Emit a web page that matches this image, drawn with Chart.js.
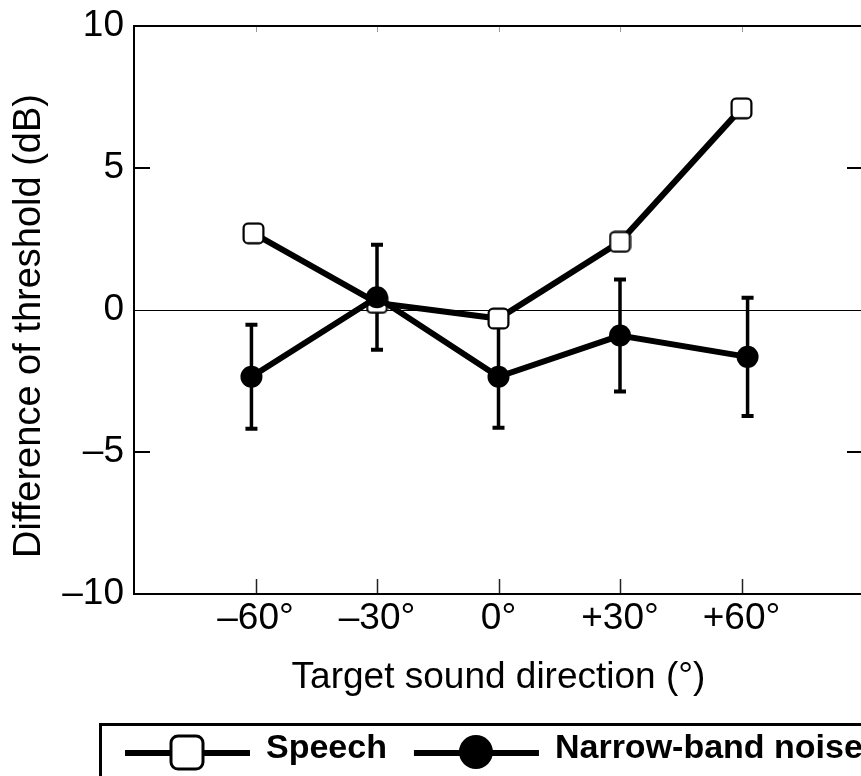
<!DOCTYPE html>
<html>
<head>
<meta charset="utf-8">
<title>Difference of threshold</title>
<script src="https://cdn.jsdelivr.net/npm/chart.js@4.4.0/dist/chart.umd.min.js"></script>
<style>
  html, body { margin: 0; padding: 0; background: #fff; overflow: hidden; }
  #wrap { width: 861px; height: 776px; overflow: hidden; }
</style>
</head>
<body>
<div id="wrap"><canvas id="thresholdChart" width="880" height="776"></canvas></div>
<script>
// direction ticks and labels
var directions = [-60, -30, 0, 30, 60];
var dirLabels = ['\u201360\u00b0', '\u201330\u00b0', '0\u00b0', '+30\u00b0', '+60\u00b0'];
var yTicks = [-10, -5, 0, 5, 10];
var yTickLabels = ['\u201310', '\u20135', '0', '5', '10'];

// speech: threshold difference (dB)
var speechX = [-60.5, -30, 0, 30, 60];
var speechDiff = [2.7, 0.25, -0.3, 2.4, 7.1];

// narrow-band noise: mean and SD (dB)
var noiseX = [-61, -30, 0, 30, 61.5];
var noiseDiff = [-2.35, 0.45, -2.35, -0.9, -1.65];
var noiseSd = [1.83, 1.85, 1.8, 1.97, 2.08];

var yTitle = 'Difference of threshold (dB)';
var FONT = '"Liberation Sans", Arial, Helvetica, sans-serif';

function roundRectPath(g, x, y, w, h, r) {
  g.beginPath();
  g.moveTo(x + r, y);
  g.lineTo(x + w - r, y);
  g.arcTo(x + w, y, x + w, y + r, r);
  g.lineTo(x + w, y + h - r);
  g.arcTo(x + w, y + h, x + w - r, y + h, r);
  g.lineTo(x + r, y + h);
  g.arcTo(x, y + h, x, y + h - r, r);
  g.lineTo(x, y + r);
  g.arcTo(x, y, x + r, y, r);
  g.closePath();
}

// open rounded square used as the speech marker
function squareMarker(size, r, lw) {
  var c = document.createElement('canvas');
  c.width = size; c.height = size;
  var g = c.getContext('2d');
  var o = lw / 2 + 0.5;
  roundRectPath(g, o, o, size - 2 * o, size - 2 * o, r);
  g.fillStyle = '#fff'; g.fill();
  g.lineWidth = lw; g.strokeStyle = '#000'; g.stroke();
  return c;
}

function toPoints(xs, ys) {
  return xs.map(function (x, i) { return { x: x, y: ys[i] }; });
}

// zero line, frame and inward ticks
var frame = {
  id: 'frame',
  beforeDatasetsDraw: function (chart) {
    var a = chart.chartArea, ctx = chart.ctx;
    var xs = chart.scales.x, ys = chart.scales.y;
    ctx.save();
    var y0 = Math.round(ys.getPixelForValue(0)) + 0.5;
    ctx.strokeStyle = '#000'; ctx.lineWidth = 1;
    ctx.beginPath(); ctx.moveTo(a.left, y0); ctx.lineTo(a.right, y0); ctx.stroke();

    ctx.lineWidth = 1.5; ctx.strokeStyle = '#222';
    directions.forEach(function (d) {
      var px = Math.round(xs.getPixelForValue(d)) + 0.5;
      ctx.beginPath(); ctx.moveTo(px, a.bottom); ctx.lineTo(px, a.bottom - 15); ctx.stroke();
    });
    ctx.strokeStyle = '#999'; ctx.lineWidth = 1;
    directions.forEach(function (d) {
      var px = Math.round(xs.getPixelForValue(d)) + 0.5;
      ctx.beginPath(); ctx.moveTo(px, a.top); ctx.lineTo(px, a.top + 6); ctx.stroke();
    });
    ctx.strokeStyle = '#000'; ctx.lineWidth = 2;
    [-5, 5].forEach(function (v) {
      var py = ys.getPixelForValue(v);
      ctx.beginPath();
      ctx.moveTo(a.left, py); ctx.lineTo(a.left + 16, py);
      ctx.moveTo(a.right, py); ctx.lineTo(a.right - 16, py);
      ctx.stroke();
    });

    ctx.lineWidth = 2;
    ctx.strokeRect(a.left, a.top, a.right - a.left, a.bottom - a.top);

    // vertical axis title
    ctx.fillStyle = '#000';
    ctx.font = '38px ' + FONT;
    ctx.textAlign = 'center';
    ctx.textBaseline = 'middle';
    ctx.translate(30, 326);
    ctx.rotate(-Math.PI / 2);
    ctx.fillText(yTitle, 0, 0);
    ctx.restore();
  }
};

// SD bars for the noise condition
var errorBars = {
  id: 'errorBars',
  beforeDatasetsDraw: function (chart) {
    var xs = chart.scales.x, ys = chart.scales.y, ctx = chart.ctx;
    ctx.save();
    ctx.strokeStyle = '#000';
    noiseX.forEach(function (v, i) {
      var px = xs.getPixelForValue(v);
      var top = ys.getPixelForValue(noiseDiff[i] + noiseSd[i]);
      var bot = ys.getPixelForValue(noiseDiff[i] - noiseSd[i]);
      ctx.lineWidth = 3.5;
      ctx.beginPath(); ctx.moveTo(px, top); ctx.lineTo(px, bot); ctx.stroke();
      ctx.lineWidth = 4;
      ctx.beginPath();
      ctx.moveTo(px - 6, top); ctx.lineTo(px + 6, top);
      ctx.moveTo(px - 6, bot); ctx.lineTo(px + 6, bot);
      ctx.stroke();
    });
    ctx.restore();
  }
};

// boxed legend below the axis title
var legendBox = {
  id: 'legendBox',
  afterDraw: function (chart) {
    var ctx = chart.ctx;
    var top = 724, left = 100, cy = 752;
    ctx.save();
    ctx.lineWidth = 3; ctx.strokeStyle = '#000';
    ctx.strokeRect(left + 0.5, top + 0.5, chart.width, 120);

    ctx.font = 'bold 34px ' + FONT;
    ctx.textBaseline = 'middle';
    ctx.textAlign = 'left';
    var x = 125;
    chart.data.datasets.forEach(function (ds) {
      ctx.strokeStyle = '#000'; ctx.lineWidth = 6; ctx.lineCap = 'butt';
      ctx.beginPath(); ctx.moveTo(x, cy + 1); ctx.lineTo(x + 125, cy + 1); ctx.stroke();
      var mx = x + 62;
      if (ds.pointStyle === 'circle') {
        ctx.fillStyle = '#000';
        ctx.beginPath(); ctx.arc(mx, cy, 17, 0, Math.PI * 2); ctx.fill();
      } else {
        roundRectPath(ctx, mx - 16, cy - 16, 32, 33, 7);
        ctx.fillStyle = '#fff'; ctx.fill();
        ctx.lineWidth = 3; ctx.stroke();
      }
      ctx.fillStyle = '#000';
      ctx.fillText(ds.label, x + 141, cy - 3);
      x = x + 141 + ctx.measureText(ds.label).width + 27;
    });
    ctx.restore();
  }
};

var ctx = document.getElementById('thresholdChart');
var chart = new Chart(ctx, {
  type: 'line',
  data: {
    datasets: [
      {
        label: 'Speech',
        data: toPoints(speechX, speechDiff),
        borderColor: '#000',
        borderWidth: 6,
        pointStyle: squareMarker(23, 4.5, 2.2),
        pointRadius: 11,
        tension: 0,
        order: 1
      },
      {
        label: 'Narrow-band noise',
        data: toPoints(noiseX, noiseDiff),
        borderColor: '#000',
        borderWidth: 6,
        pointStyle: 'circle',
        pointRadius: 11,
        pointBackgroundColor: '#000',
        pointBorderColor: '#000',
        pointBorderWidth: 0,
        tension: 0,
        order: 0
      }
    ]
  },
  options: {
    responsive: false,
    animation: false,
    layout: { padding: { top: 26, right: 12, left: 0, bottom: 0 } },
    plugins: {
      legend: { display: false },
      tooltip: { enabled: false }
    },
    scales: {
      x: {
        type: 'linear',
        min: -90,
        max: 90,
        grid: { display: false, drawTicks: false },
        border: { display: false },
        afterBuildTicks: function (scale) {
          scale.ticks = directions.map(function (v) { return { value: v }; });
        },
        afterFit: function (scale) {
          scale.height = 182;
          scale.paddingLeft = 0;
          scale.paddingRight = 0;
        },
        ticks: {
          color: '#000',
          font: { family: FONT, size: 37 },
          padding: 3,
          maxRotation: 0,
          autoSkip: false,
          callback: function (value) { return dirLabels[directions.indexOf(value)]; }
        },
        title: {
          display: true,
          text: 'Target sound direction (\u00b0)',
          color: '#000',
          font: { family: FONT, size: 37 },
          padding: { top: 0, bottom: 76 }
        }
      },
      y: {
        min: -10,
        max: 10,
        grid: { display: false, drawTicks: false },
        border: { display: false },
        afterBuildTicks: function (scale) {
          scale.ticks = yTicks.map(function (v) { return { value: v }; });
        },
        afterFit: function (scale) {
          scale.width = 134;
          scale.paddingTop = 0;
          scale.paddingBottom = 0;
        },
        ticks: {
          color: '#000',
          font: { family: FONT, size: 37 },
          padding: 10,
          callback: function (value) { return yTickLabels[yTicks.indexOf(value)]; }
        }
      }
    }
  },
  plugins: [frame, errorBars, legendBox]
});
</script>
</body>
</html>
